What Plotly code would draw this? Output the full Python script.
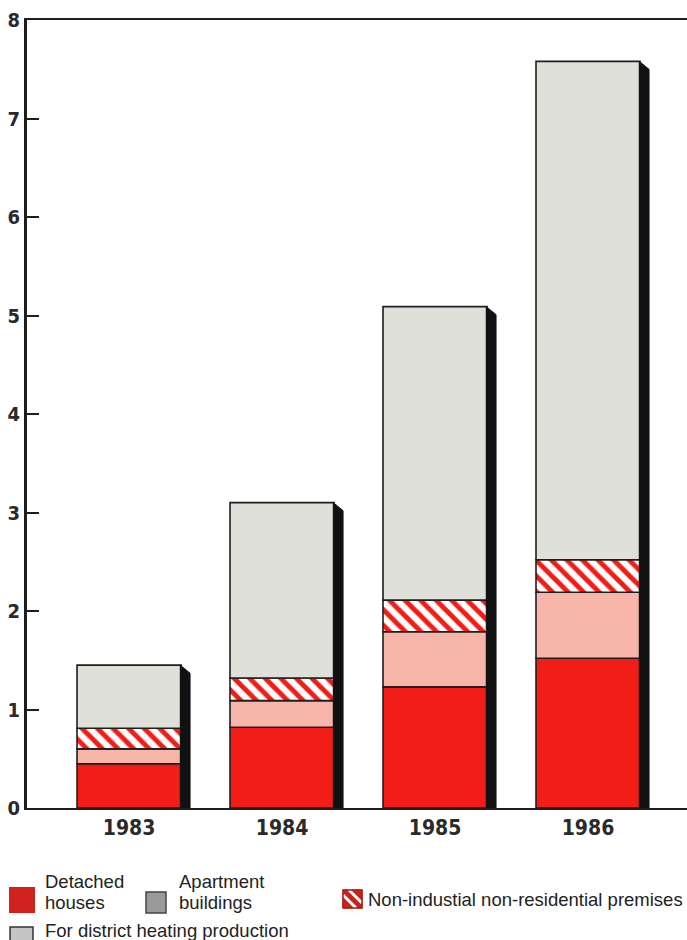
import numpy as np
import plotly.graph_objects as go

# Energy use by sector, stacked per year
years = ["1983", "1984", "1985", "1986"]
detached_houses = [0.45, 0.82, 1.23, 1.52]
apartment_buildings = [0.15, 0.27, 0.56, 0.67]
non_residential = [0.21, 0.23, 0.32, 0.33]
district_heating = [0.64, 1.78, 2.98, 5.06]
y_ticks = [0, 1, 2, 3, 4, 5, 6, 7, 8]

RED = "#f21d16"
PINK = "#f8b6aa"
GREY = "#dfe0da"
INK = "#1e1e1e"
COND = "DejaVu Sans Condensed, Liberation Sans, sans-serif"
SANS = "Liberation Sans, Arial, sans-serif"

W, H = 687, 940
L, R, T, B = 27, 0, 20, 132
PW, PH = W - L - R, H - T - B

x = np.arange(len(years), dtype=float)
bar_w = 0.68
x_span = 4.314
series = [
    ("Detached houses", detached_houses, dict(color=RED)),
    ("Apartment buildings", apartment_buildings, dict(color=PINK)),
    ("Non-industial non-residential premises", non_residential,
     dict(color="white", pattern=dict(shape="\\", fgcolor=RED, bgcolor="white",
                                       size=11, solidity=0.45, fillmode="replace"))),
    ("For district heating production", district_heating, dict(color=GREY)),
]

fig = go.Figure()

# Dark side faces behind each column (bevelled at the top corner)
totals = np.sum([s[1] for s in series], axis=0)
dx = 9 / PW * x_span
dy = 8 / PH * 8
for xi, tot in zip(x, totals):
    r = xi + bar_w / 2
    fig.add_trace(go.Scatter(
        x=[r - 0.005, r + dx, r + dx, r - 0.005, r - 0.005],
        y=[tot, tot - dy, 0, 0, tot],
        fill="toself", fillcolor="#111111", mode="lines",
        line=dict(color="#111111", width=1), hoverinfo="skip", showlegend=False))

base = np.zeros(len(years))
for name, vals, mk in series:
    vals = np.array(vals)
    fig.add_trace(go.Bar(
        x=x, y=vals, base=base, width=bar_w, name=name,
        marker=dict(line=dict(color=INK, width=1.6), **mk),
        showlegend=False))
    base = base + vals

fig.update_layout(
    width=W, height=H, barmode="overlay",
    margin=dict(l=L, r=R, t=T, b=B, pad=0),
    paper_bgcolor="white", plot_bgcolor="white",
    font=dict(family=COND, color=INK),
    xaxis=dict(range=[-0.667, -0.667 + x_span], tickvals=x, ticktext=years,
               showgrid=False, zeroline=False, showline=True, linecolor=INK,
               linewidth=2, mirror=True, ticks="",
               tickfont=dict(size=21, family=COND, weight="bold", color="#2a2a2a")),
    yaxis=dict(range=[0, 8], tickvals=y_ticks, showgrid=False, zeroline=False,
               showline=True, linecolor=INK, linewidth=3, ticks="inside",
               ticklen=12, tickwidth=2, tickcolor=INK,
               tickfont=dict(size=20, family=COND, weight="bold", color="#2a2a2a")),
)


def px(xp):
    return (xp - L) / PW


def py(yp):
    return (H - B - yp) / PH


shapes = []
annots = []


def rect(x0, y0, x1, y1, fill, line="#333", lw=1):
    shapes.append(dict(type="rect", xref="paper", yref="paper",
                       x0=px(x0), x1=px(x1), y0=py(y1), y1=py(y0),
                       fillcolor=fill, line=dict(color=line, width=lw)))


def text(xp, yp, s):
    annots.append(dict(xref="paper", yref="paper", x=px(xp), y=py(yp), text=s,
                       showarrow=False, xanchor="left", yanchor="middle",
                       font=dict(family=SANS, size=18.5, color="#222")))


# Legend
rect(9, 887, 35, 913, "#d0221c", line="#c0201a", lw=0)
text(43, 881, "Detached")
text(43, 903, "houses")

rect(146, 892, 166, 913, "#9a9a9a", line="#444", lw=1.5)
text(177, 881, "Apartment")
text(177, 903, "buildings")

rect(343, 890, 362, 908, "#c8221c", line="#b01e18", lw=1)
for (a, b, c, d) in [(343, 895, 356, 908), (349, 890, 362, 903)]:
    shapes.append(dict(type="line", xref="paper", yref="paper",
                       x0=px(a), y0=py(b), x1=px(c), y1=py(d),
                       line=dict(color="white", width=3)))
rect(343, 890, 362, 908, "rgba(0,0,0,0)", line="#b01e18", lw=1.5)
text(366, 899, "Non-industial non-residential premises")

rect(10, 927, 33, 945, "#c4c4c4", line="#333", lw=1.5)
text(43, 931, "For district heating production")

fig.update_layout(shapes=shapes, annotations=annots)
fig.write_html("out.html")
